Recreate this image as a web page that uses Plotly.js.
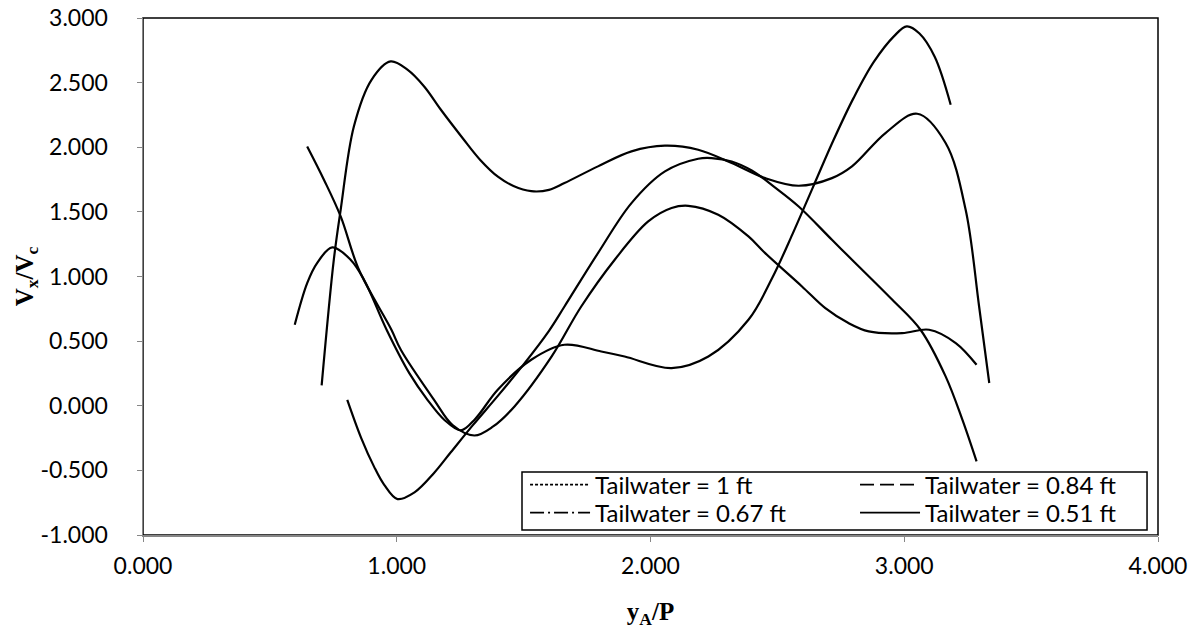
<!DOCTYPE html>
<html>
<head>
<meta charset="utf-8">
<script src="https://cdn.plot.ly/plotly-3.0.1.min.js"></script>
<style>html,body{margin:0;padding:0;background:#fff;}#chart{width:1196px;height:635px;}</style>
</head>
<body>
<div id="chart"></div>
<script>
// Series names
const seriesNames = ["Tailwater = 1 ft", "Tailwater = 0.84 ft", "Tailwater = 0.67 ft", "Tailwater = 0.51 ft"];

// Tailwater = 1 ft
const x1ft = [0.598,0.647,0.686,0.746,0.818,0.871,0.96,1.05,1.121,1.187,1.253,1.31,1.398,1.53,1.661,1.806,1.898,2.083,2.228,2.386,2.48,2.56,2.64,2.72,2.80,2.88,2.96,3.01,3.06,3.12,3.183];
const y1ft = [0.627,0.949,1.104,1.225,1.13,0.975,0.588,0.25,0.046,-0.108,-0.19,-0.10,0.124,0.356,0.472,0.42,0.381,0.291,0.381,0.665,0.99,1.33,1.69,2.05,2.38,2.66,2.86,2.935,2.88,2.70,2.329];

// Tailwater = 0.84 ft
const x084 = [0.704,0.752,0.779,0.831,0.90,0.976,1.042,1.108,1.174,1.26,1.33,1.40,1.46,1.53,1.60,1.661,1.793,1.925,2.057,2.188,2.32,2.452,2.584,2.715,2.794,2.926,3.051,3.163,3.242,3.295,3.335];
const y084 = [0.157,1.13,1.516,2.161,2.52,2.664,2.60,2.47,2.29,2.07,1.90,1.77,1.70,1.66,1.67,1.723,1.852,1.968,2.012,1.981,1.878,1.761,1.702,1.761,1.852,2.11,2.259,2.033,1.516,0.768,0.176];

// Tailwater = 0.67 ft
const x067 = [0.647,0.713,0.779,0.851,0.979,1.016,1.147,1.22,1.306,1.38,1.464,1.61,1.727,1.859,1.991,2.083,2.149,2.267,2.386,2.452,2.597,2.689,2.78,2.86,2.992,3.098,3.203,3.285];
const y067 = [2.006,1.749,1.465,1.052,0.588,0.433,0.046,-0.149,-0.23,-0.16,-0.005,0.38,0.768,1.13,1.426,1.53,1.547,1.478,1.31,1.181,0.923,0.755,0.64,0.575,0.562,0.588,0.485,0.317];

// Tailwater = 0.51 ft
const x051 = [0.805,0.86,0.910,0.95,1.003,1.07,1.147,1.213,1.30,1.40,1.50,1.60,1.661,1.793,1.925,2.057,2.188,2.241,2.32,2.399,2.49,2.584,2.715,2.794,2.953,3.064,3.163,3.229,3.285];
const y051 = [0.046,-0.25,-0.469,-0.61,-0.722,-0.67,-0.52,-0.36,-0.15,0.08,0.32,0.58,0.768,1.181,1.568,1.813,1.911,1.916,1.89,1.82,1.69,1.542,1.284,1.13,0.82,0.588,0.227,-0.108,-0.431];

// Axis ticks
const xTicks = [0, 1, 2, 3, 4];
const yTicks = [-1, -0.5, 0, 0.5, 1, 1.5, 2, 2.5, 3];
const xTickText = xTicks.map(v => v.toFixed(3));
const yTickText = yTicks.map(v => v.toFixed(3));

const legendDashes = ["3px,2px", "14px,6px", "14px,4px,2px,4px", "solid"];
const legendIds = ["legend", "legend2", "legend3", "legend4"];
const xs = [x1ft, x084, x067, x051];
const ys = [y1ft, y084, y067, y051];

const traces = [];
for (let i = 0; i < 4; i++) {
  traces.push({
    x: xs[i], y: ys[i], type: 'scatter', mode: 'lines',
    line: {color: '#000', width: 2.2, shape: 'spline', smoothing: 1},
    showlegend: false, hoverinfo: 'skip'
  });
}
for (let i = 0; i < 4; i++) {
  traces.push({
    x: [null], y: [null], type: 'scatter', mode: 'lines',
    name: seriesNames[i], legend: legendIds[i],
    line: {color: '#000', width: 1.6, dash: legendDashes[i]},
    showlegend: true
  });
}

const tickFont = {family: 'Lato, "Open Sans", sans-serif', size: 23, color: '#000'};
const legFont = {family: 'Lato, "Open Sans", sans-serif', size: 24, color: '#000'};
function leg(x, y) {
  return {x: x, xanchor: 'left', y: y, yanchor: 'middle', orientation: 'v',
          bgcolor: 'rgba(0,0,0,0)', borderwidth: 0, font: legFont, itemwidth: 60};
}

const layout = {
  width: 1196, height: 635,
  margin: {l: 143, r: 38, t: 18, b: 100},
  paper_bgcolor: '#fff', plot_bgcolor: '#fff',
  showlegend: true,
  xaxis: {
    range: [0, 4], tickmode: 'array', tickvals: xTicks, ticktext: xTickText,
    showgrid: false, zeroline: false,
    showline: true, linecolor: '#868686', linewidth: 1.5,
    ticks: 'outside', ticklen: 5, tickcolor: '#868686', tickwidth: 1,
    tickfont: tickFont, ticklabelstandoff: 5,
    title: {text: '<b>y<sub>A</sub>/P</b>', font: {family: '"Liberation Serif", "DejaVu Serif", serif', size: 25, color: '#000'}, standoff: 24},
    automargin: false
  },
  yaxis: {
    range: [-1, 3], tickmode: 'array', tickvals: yTicks, ticktext: yTickText,
    showgrid: false, zeroline: false,
    showline: true, linecolor: '#868686', linewidth: 1.5,
    ticks: 'outside', ticklen: 5, tickcolor: '#868686', tickwidth: 1,
    tickfont: tickFont, ticklabelstandoff: 24,
    title: {text: '<b>V<sub>x</sub>/V<sub>c</sub></b>', font: {family: '"Liberation Serif", "DejaVu Serif", serif', size: 25, color: '#000'}, standoff: 0},
    automargin: false
  },
  shapes: [
    {type: 'rect', xref: 'paper', yref: 'paper', x0: 0, x1: 1, y0: 0, y1: 1,
     line: {color: '#000', width: 1.5}, fillcolor: 'rgba(0,0,0,0)', layer: 'below'},
    {type: 'rect', xref: 'paper', yref: 'paper', x0: 0.3734, x1: 0.9892, y0: 0.0097, y1: 0.1219,
     line: {color: '#000', width: 1.5}, fillcolor: '#fff', layer: 'above'}
  ],
  legend: leg(0.3764, 0.0967),
  legend2: leg(0.7015, 0.0967),
  legend3: leg(0.3764, 0.0426),
  legend4: leg(0.7015, 0.0426)
};

Plotly.newPlot('chart', traces, layout, {staticPlot: true, displayModeBar: false});
</script>
</body>
</html>
